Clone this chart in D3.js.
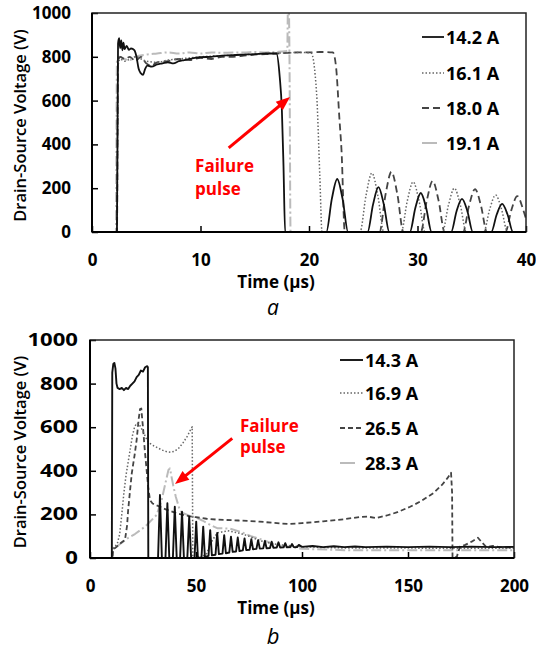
<!DOCTYPE html>
<html><head><meta charset="utf-8">
<script src="https://cdn.jsdelivr.net/npm/d3@7"></script>
<style>body{margin:0;background:#fff;} text{font-family:"Open Sans",Lato,sans-serif;}</style>
</head><body><svg id="c" width="536" height="653"></svg>
<script>
// ---------- DATA ----------
const voltTicks = [0, 200, 400, 600, 800, 1000];
const timeTicksA = [0, 10, 20, 30, 40];
const timeTicksB = [0, 50, 100, 150, 200];
const labelsA = ["14.2 A", "16.1 A", "18.0 A", "19.1 A"];
const labelsB = ["14.3 A", "16.9 A", "26.5 A", "28.3 A"];

// panel a series: [time µs, voltage V]
const a_14_2 = [[0,0],[2.3,0],[2.4,860],[2.5,885],[2.6,840],[2.7,875],[2.8,830],[2.9,865],[3.0,835],[3.2,850],[3.4,832],[3.6,838],[3.9,830],[4.1,800],[4.3,745],[4.5,725],[4.7,718],[4.9,745],[5.1,760],[5.5,755],[6.0,765],[6.5,770],[7,775],[7.5,770],[8,780],[8.5,785],[9,790],[9.5,795],[10,798],[11,800],[12,805],[13,808],[14,810],[15,812],[16,815],[17,815],[17.3,709],[17.5,557],[17.65,300],[17.8,0],[21.6,0],[22.1,150],[22.6,242],[23.1,150],[23.6,0],[25.4,0],[25.9,125],[26.4,205],[26.9,125],[27.4,0],[29.3,0],[29.8,110],[30.3,178],[30.8,110],[31.3,0],[33.1,0],[33.6,95],[34.1,151],[34.6,95],[35.1,0],[36.8,0],[37.3,80],[37.8,128],[38.3,80],[38.8,0],[40,0]];
const a_16_1 = [[0,0],[2.3,0],[2.4,760],[2.6,790],[3,780],[3.5,790],[4,800],[5,780],[6,775],[7,785],[8,790],[9,795],[10,800],[12,805],[14,810],[16,815],[18,818],[19,820],[20.2,817],[20.7,633],[21.0,252],[21.2,0],[24.7,0],[25.25,165],[25.8,269],[26.35,165],[26.9,0],[28.5,0],[29.05,140],[29.6,229],[30.15,140],[30.7,0],[32.3,0],[32.85,122],[33.4,200],[33.95,122],[34.5,0],[36.1,0],[36.65,103],[37.2,169],[37.75,103],[38.3,0],[40,0]];
const a_18_0 = [[0,0],[2.3,0],[2.4,780],[2.6,800],[3,790],[3.5,800],[4,780],[4.5,800],[5,770],[5.5,760],[6,775],[7,780],[8,790],[9,785],[10,795],[11,790],[12,800],[13,800],[14,805],[15,810],[16,812],[17,815],[18,818],[19,820],[20,820],[21,822],[22.2,820],[22.5,750],[22.8,520],[23.0,370],[23.3,0],[26.5,0],[27.05,170],[27.6,275],[28.15,170],[28.7,0],[30.3,0],[30.85,142],[31.4,233],[31.95,142],[32.5,0],[34.2,0],[34.75,120],[35.3,196],[35.85,120],[36.4,0],[38.1,0],[38.65,100],[39.2,164],[39.75,100],[40,60]];
const a_19_1 = [[0,0],[2.2,0],[2.3,780],[2.5,800],[3,790],[3.5,785],[4,800],[5,810],[6,815],[7,820],[8,815],[9,820],[10,815],[11,820],[12,818],[13,820],[14,820],[15,822],[16,820],[17,822],[17.8,825],[18.0,830],[18.05,1000],[18.15,1000],[18.2,800],[18.3,0],[40,0]];

// panel b series: [time µs, voltage V]
const b_14_3 = [[0,0],[10.3,0],[10.5,850],[11.0,890],[11.5,895],[12.0,870],[12.5,800],[13.0,780],[14,775],[15,780],[16,770],[17,780],[18,775],[19,790],[20,800],[21,810],[22,830],[23,840],[24,860],[25,855],[26,875],[27,880],[27.3,875],[27.5,0],[32.1,0],[33.0,289],[33.9,0],[35.6,0],[36.5,251],[37.4,0],[39.1,0],[40.0,235],[40.9,0],[42.5,0],[43.4,212],[44.3,0],[45.9,0],[46.8,190],[47.7,0],[49.3,0],[50.1,167],[50.9,0],[52.6,3],[53.4,144],[54.2,5],[55.9,10],[56.7,128],[57.5,12],[59.2,15],[60.0,115],[60.8,18],[62.5,20],[63.3,105],[64.1,22],[65.7,25],[66.5,98],[67.3,28],[68.9,30],[69.7,94],[70.5,32],[72.1,35],[72.9,90],[73.7,36],[75.3,38],[76.1,86],[76.9,40],[78.5,42],[79.3,82],[80.1,43],[81.7,44],[82.5,78],[83.3,45],[84.9,46],[85.7,75],[86.5,47],[88.1,48],[88.9,72],[89.7,48],[91.3,49],[92.1,68],[92.9,49],[94.5,50],[95.3,64],[96.1,50],[97.7,50],[98.5,60],[100,51],[105,55],[110,50],[115,54],[120,50],[125,53],[130,50],[140,52],[150,50],[160,52],[170,50],[180,52],[190,50],[200,51]];
const b_16_9 = [[0,0],[10.5,0],[11,45],[12,55],[13,70],[14,110],[15,200],[16,300],[17,380],[18,440],[19,500],[20,560],[21,600],[22,619],[23,615],[24,600],[25,580],[26,560],[27,540],[28,527],[30,515],[32,505],[34,495],[36,488],[38,485],[40,490],[42,505],[44,530],[46,560],[47.5,590],[48.2,602],[48.5,0],[52,0],[55,20],[57,70],[60,115],[65,125],[70,115],[75,100],[80,80],[85,68],[90,60],[100,52],[110,48],[120,46],[140,46],[160,45],[180,45],[200,45]];
const b_26_5 = [[0,0],[10.5,0],[11,40],[12.6,52],[14,65],[16.5,83],[17.5,150],[18,220],[19,320],[19.7,388],[21,470],[22,541],[23,640],[23.6,683],[24.2,686],[24.6,640],[25.1,587],[25.8,500],[26.7,404],[27.5,320],[28.3,266],[29.5,250],[31,243],[33,235],[36,222],[40,208],[45,195],[50,187],[55,180],[60,176],[70,172],[80,167],[90,158],[94,156],[100,160],[110,168],[120,178],[127,188],[131,190],[135,183],[140,195],[145,210],[151,235],[156,260],[162,298],[166,335],[168.5,365],[170.3,391],[170.8,300],[171,0],[173,5],[174.5,52],[177,60],[180,75],[183,93],[185,70],[187,50],[190,55],[195,48],[200,50]];
const b_28_3 = [[0,0],[10.5,0],[11,46],[13,55],[15,70],[18,92],[21.2,110],[26,144],[31.4,197],[33.8,266],[35.5,340],[37,404],[37.7,411],[39.3,330],[40.5,280],[42.5,215],[44,205],[46,198],[48,192],[50,186],[53,172],[57,150],[60,137],[66,135],[71,120],[76,100],[80,88],[85,70],[90,55],[100,42],[120,36],[150,35],[180,35],[200,35]];

// annotation anchors in data units
const failTextA = [9.5, 275, 169];      // time, baseline V line1, baseline V line2
const failArrowA = [[12.6, 384], [18.25, 616]];
const failTextB = [70.7, 579, 480];
const failArrowB = [[67.1, 549], [40.1, 339]];

// ---------- STYLES ----------
const styles = [
  {color:"#111", w:1.8, dash:null},
  {color:"#666", w:1.5, dash:"1.5,2"},
  {color:"#444", w:1.8, dash:"7,4"},
  {color:"#bbb", w:2, dash:"10,3,2,3"}
];
const stylesB = [
  {color:"#111", w:1.9, dash:null},
  {color:"#666", w:1.5, dash:"1.5,2"},
  {color:"#444", w:1.8, dash:"5,3"},
  {color:"#bbb", w:2, dash:"10,3,2,3"}
];
const FS = 17;

const svg = d3.select("#c");

function drawPanel(cfg) {
  const g = svg.append("g");
  const x = d3.scaleLinear().domain(cfg.xDomain).range([cfg.left, cfg.right]);
  const y = d3.scaleLinear().domain([0, 1000]).range([cfg.bottom, cfg.top]);

  const clipId = "clip" + cfg.id;
  svg.append("clipPath").attr("id", clipId).append("rect")
    .attr("x", cfg.left).attr("y", cfg.top)
    .attr("width", cfg.right - cfg.left).attr("height", cfg.bottom - cfg.top);

  const line = d3.line().x(d => x(d[0])).y(d => y(d[1])).curve(cfg.curve);
  const lines = g.append("g").attr("clip-path", `url(#${clipId})`);
  for (let i = cfg.series.length - 1; i >= 0; i--) {
    const st = cfg.styles[i];
    lines.append("path").datum(cfg.series[i]).attr("d", line)
      .attr("fill", "none").attr("stroke", st.color).attr("stroke-width", st.w)
      .attr("stroke-dasharray", st.dash).attr("stroke-linejoin", "round");
  }

  // axes
  const xa = g.append("g").attr("transform", `translate(0,${cfg.bottom})`)
    .call(d3.axisBottom(x).tickValues(cfg.xTicks).tickFormat(d3.format("d"))
      .tickSizeInner(-6).tickSizeOuter(0).tickPadding(22));
  const ya = g.append("g").attr("transform", `translate(${cfg.left},0)`)
    .call(d3.axisLeft(y).tickValues(voltTicks).tickFormat(d3.format("d"))
      .tickSizeInner(-6).tickSizeOuter(0).tickPadding(cfg.yPad));
  [xa, ya].forEach(a => {
    a.select(".domain").remove();
    a.selectAll("line").attr("stroke", "#000").attr("stroke-width", 1.5);
    a.selectAll("text").attr("font-size", FS).attr("font-weight", "bold").attr("fill", "#000")
      .attr("font-family", "Open Sans");
  });
  if (cfg.yStretch !== 1) {
    ya.selectAll("text").each(function() {
      const t = d3.select(this);
      const xx = +t.attr("x");
      t.attr("x", 0).attr("transform", `translate(${xx},0) scale(${cfg.yStretch},1)`);
    });
  }

  // frame
  g.append("rect").attr("x", cfg.left).attr("y", cfg.top)
    .attr("width", cfg.right - cfg.left).attr("height", cfg.bottom - cfg.top)
    .attr("fill", "none").attr("stroke", "#222").attr("stroke-width", 1.5);
  g.append("line").attr("x1", cfg.left).attr("x2", cfg.right).attr("y1", cfg.bottom).attr("y2", cfg.bottom)
    .attr("stroke", "#000").attr("stroke-width", 2);
  g.append("line").attr("x1", cfg.left).attr("x2", cfg.left).attr("y1", cfg.top).attr("y2", cfg.bottom)
    .attr("stroke", "#000").attr("stroke-width", 2);

  // titles
  g.append("text").attr("x", 276).attr("y", cfg.xTitleY).attr("text-anchor", "middle")
    .attr("font-size", FS).attr("font-weight", "bold").text("Time (µs)");
  g.append("text").attr("transform", `translate(26,${(cfg.top + cfg.bottom) / 2 + 3}) rotate(-90)`)
    .attr("text-anchor", "middle").attr("font-size", 16.5).attr("font-weight", 600)
    .text("Drain-Source Voltage (V)");
  g.append("text").attr("x", 273).attr("y", cfg.letterY).attr("text-anchor", "middle")
    .attr("font-family", "Liberation Serif").attr("font-style", "italic").attr("font-size", cfg.letterSize)
    .text(cfg.letter);

  // legend
  cfg.labels.forEach((lab, i) => {
    const st = cfg.styles[i];
    const ly = cfg.legY[i];
    g.append("line").attr("x1", cfg.legX0).attr("x2", i === 3 ? cfg.legX0 + 15 : cfg.legX1)
      .attr("y1", ly).attr("y2", ly).attr("stroke", st.color).attr("stroke-width", st.w)
      .attr("stroke-dasharray", i === 3 ? null : st.dash);
    g.append("text").attr("x", cfg.legX1 + 2).attr("y", ly + 6.5).attr("font-size", 18)
      .attr("font-weight", "bold").text(lab);
  });

  // annotation
  const ta = cfg.failText;
  const tx = x(ta[0]);
  g.append("text").attr("x", tx).attr("y", y(ta[1])).attr("fill", "#f00")
    .attr("font-size", FS).attr("font-weight", "bold").text("Failure");
  g.append("text").attr("x", tx).attr("y", y(ta[2])).attr("fill", "#f00")
    .attr("font-size", FS).attr("font-weight", "bold").text("pulse");
  const [p0, p1] = cfg.failArrow;
  const sx = x(p0[0]), sy = y(p0[1]), ex = x(p1[0]), ey = y(p1[1]);
  const ang = Math.atan2(ey - sy, ex - sx);
  const hl = 14, hw = 5.5;
  const bx = ex - hl * Math.cos(ang), by = ey - hl * Math.sin(ang);
  g.append("line").attr("x1", sx).attr("y1", sy).attr("x2", bx + 2 * Math.cos(ang)).attr("y2", by + 2 * Math.sin(ang))
    .attr("stroke", "#f00").attr("stroke-width", 3);
  g.append("path").attr("d", `M${ex},${ey}L${bx - hw * Math.sin(ang)},${by + hw * Math.cos(ang)}L${bx + hw * Math.sin(ang)},${by - hw * Math.cos(ang)}Z`)
    .attr("fill", "#f00");
}

drawPanel({
  id: "a", left: 92, right: 526, top: 13, bottom: 232,
  xDomain: [0, 40], xTicks: timeTicksA, yPad: 21, yStretch: 1,
  series: [a_14_2, a_16_1, a_18_0, a_19_1], styles: styles, curve: d3.curveMonotoneX,
  labels: labelsA, legX0: 422, legX1: 444, legY: [37, 73, 108, 143],
  xTitleY: 288, letter: "a", letterY: 315, letterSize: 21,
  failText: failTextA, failArrow: failArrowA
});
drawPanel({
  id: "b", left: 90, right: 514, top: 340, bottom: 558,
  xDomain: [0, 200], xTicks: timeTicksB, yPad: 12, yStretch: 1.3,
  series: [b_14_3, b_16_9, b_26_5, b_28_3], styles: stylesB, curve: d3.curveLinear,
  labels: labelsB, legX0: 340, legX1: 363, legY: [360, 393, 428, 463],
  xTitleY: 614, letter: "b", letterY: 644, letterSize: 22,
  failText: failTextB, failArrow: failArrowB
});
</script></body></html>
